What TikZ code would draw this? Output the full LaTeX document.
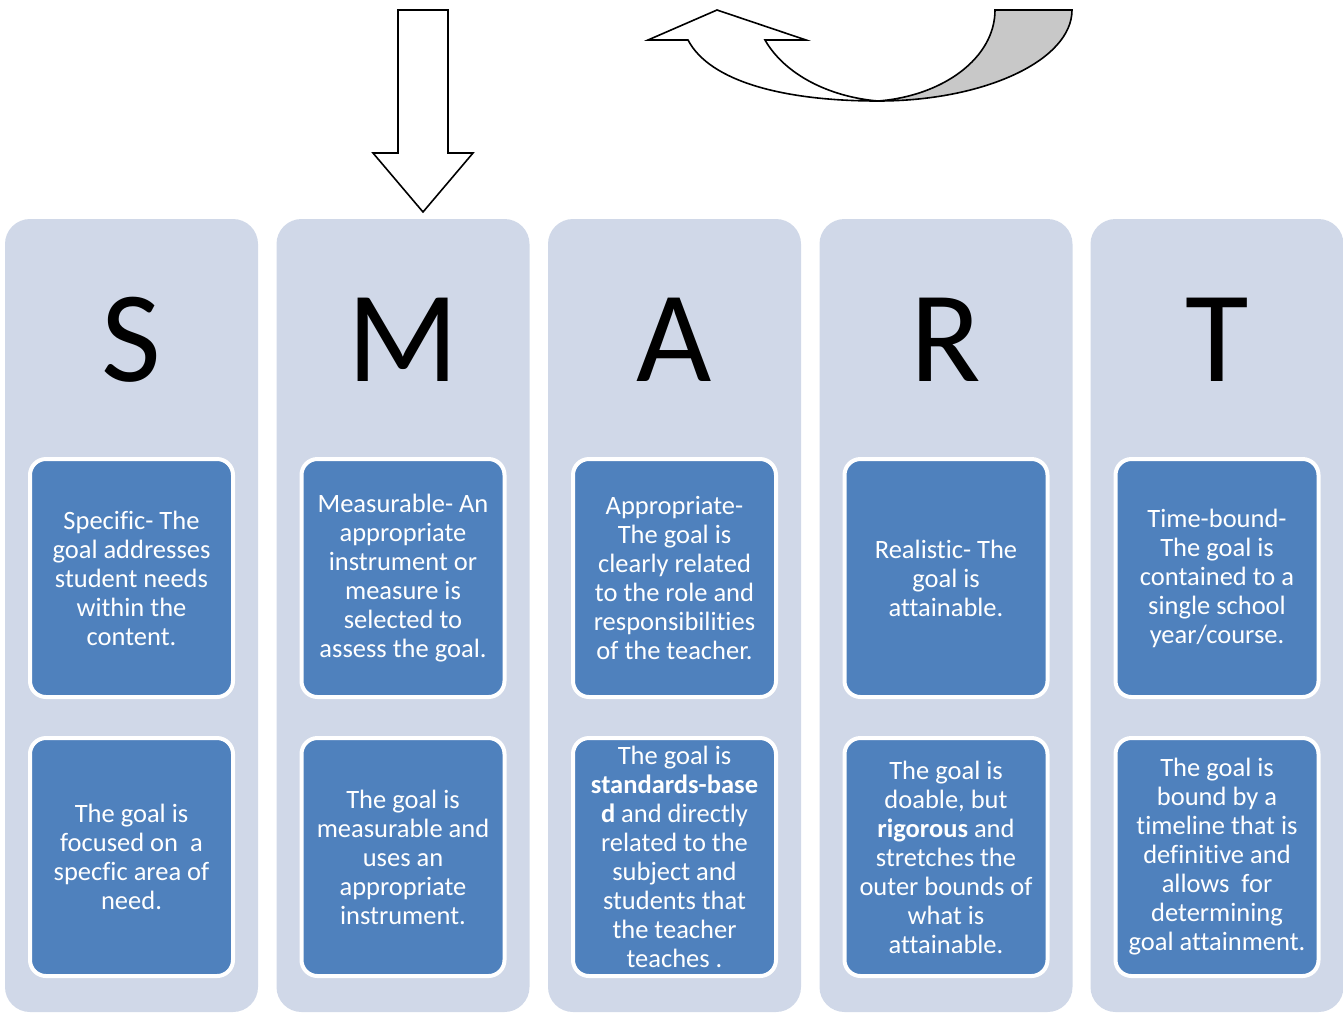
\documentclass[tikz,border=0pt]{standalone}
\usepackage{fontspec}
\setmainfont{Carlito}[Ligatures=NoCommon]
\usetikzlibrary{positioning}
\definecolor{panelgray}{HTML}{D0D8E8}
\definecolor{cardblue}{HTML}{4F81BD}
\definecolor{backgray}{HTML}{C8C8C8}
\tikzset{
    panel/.style ={fill=panelgray, rounded corners=25pt, minimum width=253pt, minimum height=793pt, inner sep=0pt},
    letter/.style ={font=\fontsize{130}{130}\selectfont, anchor=base, inner sep=0pt},
    card/.style = {fill=cardblue, draw=white, line width=4pt, rounded corners=16pt, minimum width=203pt, minimum height=238pt,
                   text=white, align=center, inner sep=0pt, font=\fontsize{26.5}{29}\selectfont},
    blockarrow/.style={draw=black, fill=white, line width=1.6pt, line join=miter},
    node distance = 37pt
}
\begin{document}
\begin{tikzpicture}[x=1pt, y=-1pt]
      \useasboundingbox (0,0) rectangle (1343,1013);

      % columns
      \node[panel] (colS) at (131.5,615.5) {};
      \node[panel] (colM) at (403,615.5) {};
      \node[panel] (colA) at (674.5,615.5) {};
      \node[panel] (colR) at (946,615.5) {};
      \node[panel] (colT) at (1217,615.5) {};

      % letters
      \node[letter] (letS) at (131.5,381) {S};
      \node[letter] (letM) at (403,381) {M};
      \node[letter] (letA) at (674.5,381) {A};
      \node[letter] (letR) at (946,381) {R};
      \node[letter] (letT) at (1217,381) {T};

      % upper cards
      \node[card] (cardS) at (131.5,578) {Specific- The\\goal addresses\\student needs\\within the\\content.};
      \node[card] (cardM) at (403,578) {Measurable- An\\appropriate\\instrument or\\measure is\\selected to\\assess the goal.};
      \node[card] (cardA) at (674.5,578) {Appropriate-\\The goal is\\clearly related\\to the role and\\responsibilities\\of the teacher.};
      \node[card] (cardR) at (946,578) {Realistic- The\\goal is\\attainable.};
      \node[card] (cardT) at (1217,578) {Time-bound-\\The goal is\\contained to a\\single school\\year/course.};

      % lower cards
      \node[card, below=of cardS] (noteS) {The goal is\\focused on\ \ a\\specfic area of\\need.};
      \node[card, below=of cardM] (noteM) {The goal is\\measurable and\\uses an\\appropriate\\instrument.};
      \node[card, below=of cardA] (noteA) {The goal is\\\textbf{standards-base}\\\textbf{d} and directly\\related to the\\subject and\\students that\\the teacher\\teaches .};
      \node[card, below=of cardR] (noteR) {The goal is\\doable, but\\\textbf{rigorous} and\\stretches the\\outer bounds of\\what is\\attainable.};
      \node[card, below=of cardT] (noteT) {The goal is\\bound by a\\timeline that is\\definitive and\\allows\ \ for\\determining\\goal attainment.};

      % down arrow
      \draw[blockarrow] (398,10) -- (448,10) -- (448,153) -- (473,153) -- (423,212) -- (373,153) -- (398,153) -- cycle;

      % curved arrow
      \draw[blockarrow, fill=backgray] (878,101) .. controls (985,101) and (1072,60) .. (1072,10)
            -- (995,10) .. controls (995,58) and (943,96) .. (878,101) -- cycle;
      \draw[blockarrow] (878,101) .. controls (785,101) and (710,82) .. (688,40) -- (648,40) -- (717,10)
            -- (806,40) -- (765,40) .. controls (785,75) and (830,97) .. (878,101) -- cycle;
\end{tikzpicture}
\end{document}
